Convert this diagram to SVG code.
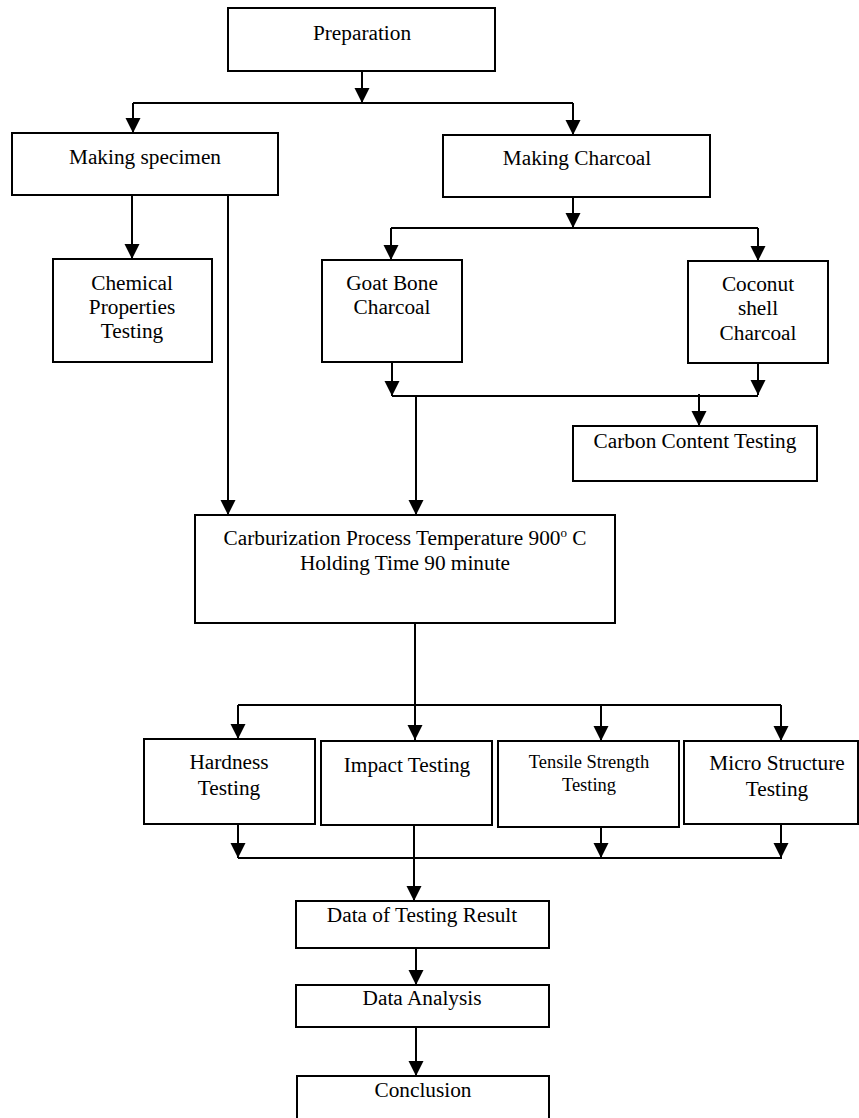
<svg xmlns="http://www.w3.org/2000/svg" width="859" height="1118" viewBox="0 0 859 1118">
<defs>
<marker id="ah" markerUnits="userSpaceOnUse" markerWidth="16" markerHeight="16" viewBox="0 0 16 16" refX="15" refY="8" orient="auto">
<path d="M0,0.5 L15,8 L0,15.5 Z" fill="#000"/>
</marker>
<style>
.box{fill:#fff;stroke:#000;stroke-width:2}
.t{font-family:"Liberation Serif","Times New Roman",serif;font-size:21.3px;fill:#000;text-anchor:middle}
.ts{font-family:"Liberation Serif","Times New Roman",serif;font-size:18.5px;fill:#000;text-anchor:middle}
.c{fill:none;stroke:#000;stroke-width:2}
.a{fill:none;stroke:#000;stroke-width:2;marker-end:url(#ah)}
</style>
</defs>
<g id="connectors">
<path class="a" d="M362,71 V103"/>
<path class="c" d="M133,103 H573"/>
<path class="a" d="M133,103 V133"/>
<path class="a" d="M573,103 V135"/>
<path class="a" d="M132,195 V259"/>
<path class="a" d="M228,195 V515"/>
<path class="a" d="M573,197 V228"/>
<path class="c" d="M391,228 H758"/>
<path class="a" d="M391,228 V260"/>
<path class="a" d="M758,228 V261"/>
<path class="a" d="M392,362 V396"/>
<path class="a" d="M758,363 V395"/>
<path class="c" d="M392,396 H758"/>
<path class="a" d="M699,394 V426"/>
<path class="a" d="M416,396 V515"/>
<path class="a" d="M415,623 V740"/>
<path class="c" d="M238,705 H781"/>
<path class="a" d="M238,705 V739"/>
<path class="a" d="M601,705 V741"/>
<path class="a" d="M781,705 V741"/>
<path class="a" d="M238,824 V858"/>
<path class="a" d="M601,827 V858"/>
<path class="a" d="M781,824 V858"/>
<path class="c" d="M238,858 H782"/>
<path class="a" d="M414,825 V901"/>
<path class="a" d="M416,948 V985"/>
<path class="a" d="M416,1027 V1076"/>
</g>
<g id="preparation"><rect class="box" x="228" y="8" width="267" height="63"/><text class="t" x="362" y="40">Preparation</text></g>
<g id="making-specimen"><rect class="box" x="12" y="133" width="266" height="62"/><text class="t" x="145" y="164">Making specimen</text></g>
<g id="making-charcoal"><rect class="box" x="443" y="135" width="267" height="62"/><text class="t" x="577" y="165">Making Charcoal</text></g>
<g id="chemical"><rect class="box" x="53" y="259" width="159" height="103"/><text class="t" x="132" y="290">Chemical</text><text class="t" x="132" y="314">Properties</text><text class="t" x="132" y="338">Testing</text></g>
<g id="goat-bone"><rect class="box" x="322" y="260" width="140" height="102"/><text class="t" x="392" y="290">Goat Bone</text><text class="t" x="392" y="314">Charcoal</text></g>
<g id="coconut"><rect class="box" x="688" y="261" width="140" height="102"/><text class="t" x="758" y="291">Coconut</text><text class="t" x="758" y="315">shell</text><text class="t" x="758" y="340">Charcoal</text></g>
<g id="carbon-content"><rect class="box" x="573" y="426" width="244" height="55"/><text class="t" x="695" y="448">Carbon Content Testing</text></g>
<g id="carburization"><rect class="box" x="195" y="515" width="420" height="108"/><text class="t" x="405" y="545">Carburization Process Temperature 900<tspan font-size="13" dy="-8">o</tspan><tspan dy="8"> C</tspan></text><text class="t" x="405" y="570">Holding Time 90 minute</text></g>
<g id="hardness"><rect class="box" x="144" y="739" width="171" height="85"/><text class="t" x="229" y="769">Hardness</text><text class="t" x="229" y="795">Testing</text></g>
<g id="impact"><rect class="box" x="321" y="741" width="171" height="84"/><text class="t" x="407" y="772">Impact Testing</text></g>
<g id="tensile"><rect class="box" x="498" y="741" width="181" height="86"/><text class="ts" x="589" y="768">Tensile Strength</text><text class="ts" x="589" y="791">Testing</text></g>
<g id="micro"><rect class="box" x="684" y="741" width="174" height="83"/><text class="t" x="777" y="770">Micro Structure</text><text class="t" x="777" y="796">Testing</text></g>
<g id="data-result"><rect class="box" x="296" y="901" width="253" height="47"/><text class="t" x="422" y="922">Data of Testing Result</text></g>
<g id="data-analysis"><rect class="box" x="296" y="985" width="253" height="42"/><text class="t" x="422" y="1005">Data Analysis</text></g>
<g id="conclusion"><rect class="box" x="297" y="1076" width="252" height="50"/><text class="t" x="423" y="1097">Conclusion</text></g>
</svg>
